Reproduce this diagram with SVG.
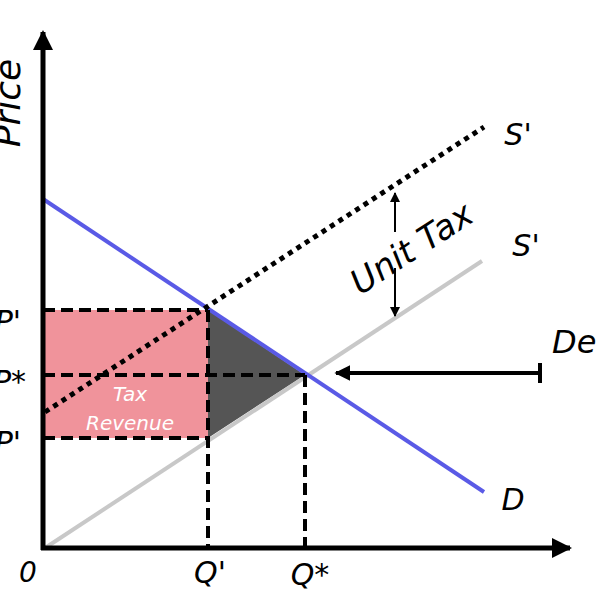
<svg xmlns="http://www.w3.org/2000/svg" width="600" height="600" viewBox="0 0 600 600">
<defs>
<marker id="ah" viewBox="0 0 10 10" refX="9" refY="5" markerWidth="4" markerHeight="4" orient="auto-start-reverse"><path d="M0,0 L10,5 L0,10 Z" fill="#000"/></marker>
<marker id="ahs" viewBox="0 0 10 10" refX="9" refY="5" markerWidth="5" markerHeight="5" orient="auto-start-reverse"><path d="M0,0 L10,5 L0,10 Z" fill="#000"/></marker>
</defs>
<style>
.lbl{font-family:"DejaVu Sans","Noto Sans",sans-serif;font-style:italic;fill:#000}
.dash{stroke:#000;stroke-width:4;stroke-dasharray:12,6;fill:none}
</style>
<rect width="600" height="600" fill="#fff"/>
<g id="tax-revenue">
<rect x="43" y="310" width="165" height="128" fill="#f0939b"/>
<text class="lbl" x="130" y="401" font-size="20" style="fill:#fff" text-anchor="middle">Tax</text>
<text class="lbl" x="130" y="430" font-size="20" style="fill:#fff" text-anchor="middle">Revenue</text>
</g>
<g id="deadweight"><polygon points="208,310 305,375 208,438" fill="#555"/></g>
<g id="connectors">
<line x1="45" y1="548" x2="482" y2="261" stroke="#c8c8c8" stroke-width="4"/>
<line x1="43" y1="199" x2="484" y2="492" stroke="#5a5ae6" stroke-width="4"/>
<line x1="45" y1="412" x2="484" y2="127" stroke="#000" stroke-width="5" stroke-dasharray="5,5"/>
<path class="dash" d="M43,310 H208 M43,375 H305 M43,438 H208 M208,310 V548 M305,375 V548"/>
<line x1="395" y1="232" x2="395" y2="193" stroke="#000" stroke-width="2" marker-end="url(#ahs)"/>
<line x1="395" y1="268" x2="395" y2="316" stroke="#000" stroke-width="2" marker-end="url(#ahs)"/>
<line x1="540" y1="373" x2="336" y2="373" stroke="#000" stroke-width="4" marker-end="url(#ah)"/>
<line x1="540" y1="363" x2="540" y2="383" stroke="#000" stroke-width="4"/>
</g>
<g id="axes">
<line x1="43" y1="550" x2="43" y2="32" stroke="#000" stroke-width="5" marker-end="url(#ah)"/>
<line x1="41" y1="548" x2="570" y2="548" stroke="#000" stroke-width="5" marker-end="url(#ah)"/>
</g>
<g id="labels">
<text class="lbl" font-size="36" transform="translate(20,103) rotate(-90)" text-anchor="middle">Price</text>
<text class="lbl" x="21" y="332" font-size="30" text-anchor="end">P'</text>
<text class="lbl" x="26" y="392" font-size="30" text-anchor="end">P*</text>
<text class="lbl" x="21" y="453" font-size="30" text-anchor="end">P'</text>
<text class="lbl" x="28" y="582" font-size="28" text-anchor="middle">0</text>
<text class="lbl" x="210" y="583" font-size="30" text-anchor="middle">Q'</text>
<text class="lbl" x="310" y="585" font-size="30" text-anchor="middle">Q*</text>
<text class="lbl" x="518" y="145" font-size="30" text-anchor="middle">S'</text>
<text class="lbl" x="526" y="256" font-size="30" text-anchor="middle">S'</text>
<text class="lbl" x="513" y="510" font-size="30" text-anchor="middle">D</text>
<text class="lbl" x="552" y="353" font-size="32">De</text>
<text class="lbl" font-size="34" transform="translate(418,258) rotate(-33)" text-anchor="middle">Unit Tax</text>
</g>
</svg>
